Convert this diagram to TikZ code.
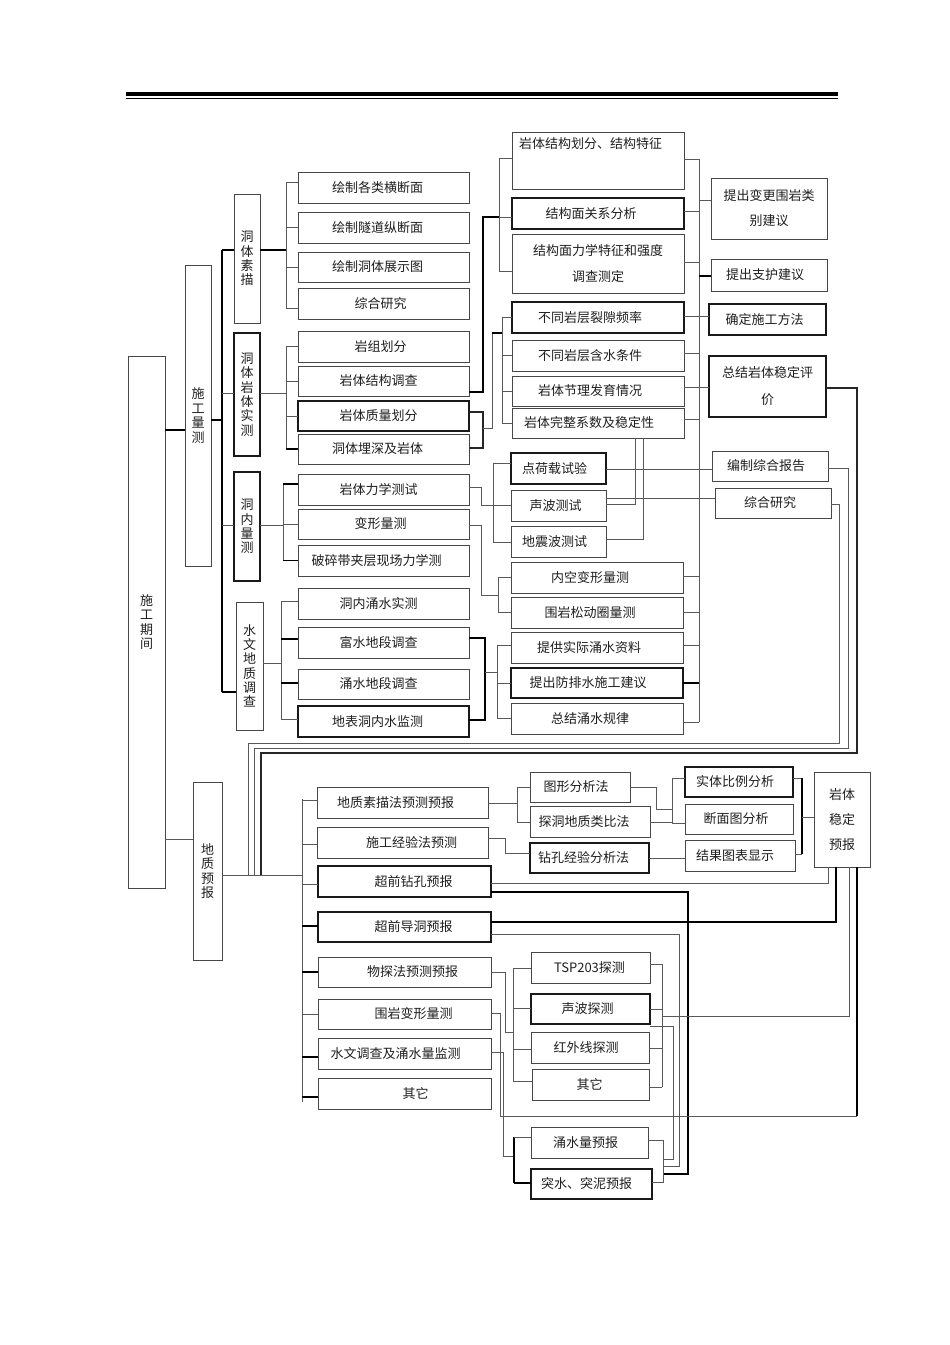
\documentclass[tikz,border=0pt]{standalone}
\usepackage{fontspec}
\setmainfont{Noto Sans CJK SC}
\usetikzlibrary{calc}
\tikzset{
  box/.style={draw=black!72, line width=0.9pt, inner sep=0pt, outer sep=0pt, fill=white, text=black!88},
  tbox/.style={box, draw=black!90, line width=1.2pt},
  vt/.style={align=center, font=\fontsize{13}{14.3}\selectfont},
  ln/.style={draw=black!65, line width=0.8pt},
  md/.style={draw=black!85, line width=1.2pt},
  tk/.style={draw=black, line width=1.6pt},
}
\newcommand\bx[8][]{\node[box,#1,minimum width={#4pt-#2pt},minimum height={#5pt-#3pt}] (#6) at ({(#2+#4)/2},{(#3+#5)/2}) {\hspace*{2\dimexpr#7pt\relax}#8};}
\begin{document}
\begin{tikzpicture}[x=1pt,y=-1pt,font=\fontsize{13}{14}\selectfont]
\useasboundingbox (0,0) rectangle (950,1345);
% top rule
\draw[line width=3.6pt] (126,94) -- (838,94);
\draw[line width=0.8pt] (126,98.8) -- (838,98.8);

% ---- left column ----
\bx[vt]{128}{356}{165}{888}{sgqj}{0}{施\\工\\期\\间}
\bx[vt,font=\fontsize{13}{14.8}\selectfont]{185}{265}{211}{566}{sglc}{0}{施\\工\\量\\测}
\bx[vt,font=\fontsize{13}{14.6}\selectfont]{193}{782}{222}{960}{dzyb}{0}{地\\质\\预\\报}
\bx[vt]{234}{194}{260}{323}{g1}{0}{洞\\体\\素\\描}
\bx[vt,tbox,line width=1.1pt]{234}{333}{260}{456}{g2}{0}{洞\\体\\岩\\体\\实\\测}
\bx[vt,tbox,line width=1.1pt]{234}{472}{260}{581}{g3}{0}{洞\\内\\量\\测}
\bx[vt]{236}{602}{263}{730}{g4}{0}{水\\文\\地\\质\\调\\查}

% ---- column 2 ----
\bx{298}{172}{469}{203}{a1}{-6}{绘制各类横断面}
\bx{298}{212}{469}{243}{a2}{-6}{绘制隧道纵断面}
\bx{298}{252}{469}{282}{a3}{-6}{绘制洞体展示图}
\bx{298}{288}{469}{319}{a4}{-3}{综合研究}
\bx{298}{331}{469}{362}{b1}{-3}{岩组划分}
\bx{298}{366}{469}{396}{b2}{-5}{岩体结构调查}
\bx[tbox]{298}{401}{469}{431}{b3}{-5}{岩体质量划分}
\bx{298}{434}{469}{464}{b4}{-6}{洞体埋深及岩体}
\bx{298}{474}{469}{505}{c1}{-5}{岩体力学测试}
\bx{298}{509}{469}{539}{c2}{-3}{变形量测}
\bx{298}{545}{469}{576}{c3}{-7}{破碎带夹层现场力学测}
\bx{298}{588}{469}{619}{d1}{-5}{洞内涌水实测}
\bx{298}{627}{469}{658}{d2}{-5}{富水地段调查}
\bx{298}{669}{469}{699}{d3}{-5}{涌水地段调查}
\bx[tbox,line width=1.05pt]{298}{706}{469}{737}{d4}{-6}{地表洞内水监测}

% ---- column 3 ----
\bx[label={[anchor=north west,inner sep=0pt,xshift=7pt,yshift=-5pt,text=black!88]north west:岩体结构划分、结构特征}]{512}{132}{684}{189}{e1}{0}{}
\bx[tbox,line width=1.05pt]{512}{198}{684}{229}{e2}{-7}{结构面关系分析}
\bx[align=center,font=\fontsize{13}{26}\selectfont]{512}{234}{684}{293}{e3}{0}{结构面力学特征和强度\\调查测定}
\bx[tbox]{512}{302}{684}{333}{f1}{-8}{不同岩层裂隙频率}
\bx{512}{340}{684}{371}{f2}{-8}{不同岩层含水条件}
\bx{512}{376}{684}{406}{f3}{-8}{岩体节理发育情况}
\bx{512}{408}{684}{438}{f4}{-9}{岩体完整系数及稳定性}
\bx[tbox,line width=1.05pt]{511}{453}{606}{484}{h1}{-4}{点荷载试验}
\bx{511}{490}{606}{521}{h2}{-3}{声波测试}
\bx{511}{526}{606}{557}{h3}{-4}{地震波测试}
\bx{511}{562}{683}{593}{i1}{-7}{内空变形量测}
\bx{511}{597}{683}{628}{i2}{-7}{围岩松动圈量测}
\bx{511}{632}{683}{663}{j1}{-8}{提供实际涌水资料}
\bx[tbox,line width=1.05pt]{511}{668}{683}{698}{j2}{-9}{提出防排水施工建议}
\bx{511}{703}{683}{734}{j3}{-7}{总结涌水规律}

% ---- right column ----
\bx[align=center,font=\fontsize{13}{25}\selectfont]{711}{178}{827}{239}{r1}{0}{提出变更围岩类\\别建议}
\bx{711}{259}{827}{291}{r2}{-4}{提出支护建议}
\bx[tbox,line width=1.05pt]{709}{304}{826}{335}{r3}{-3}{确定施工方法}
\bx[tbox,align=center,font=\fontsize{13}{27}\selectfont]{709}{356}{826}{417}{r4}{0}{总结岩体稳定评\\价}
\bx{712}{451}{828}{481}{r5}{-4}{编制综合报告}
\bx{715}{488}{831}{518}{r6}{-3}{综合研究}

% ---- forecast section ----
\bx{317}{787}{488}{818}{p1}{-7}{地质素描法预测预报}
\bx{317}{827}{488}{858}{p2}{9}{施工经验法预测}
\bx[tbox,line width=1.05pt]{318}{866}{491}{897}{p3}{9}{超前钻孔预报}
\bx[tbox,line width=1.05pt]{318}{912}{491}{942}{p4}{9}{超前导洞预报}
\bx{318}{957}{491}{987}{p5}{8}{物探法预测预报}
\bx{318}{999}{491}{1029}{p6}{9}{围岩变形量测}
\bx{318}{1038}{491}{1069}{p7}{-9}{水文调查及涌水量监测}
\bx{318}{1078}{491}{1109}{p8}{11}{其它}

\bx{530}{772}{630}{802}{q1}{-4}{图形分析法}
\bx{530}{806}{650}{837}{q2}{-6}{探洞地质类比法}
\bx[tbox,line width=1.05pt]{530}{843}{649}{873}{q3}{-6}{钻孔经验分析法}
\bx[tbox,line width=1.1pt]{685}{767}{793}{797}{s1}{-4}{实体比例分析}
\bx{685}{804}{793}{834}{s2}{-3}{断面图分析}
\bx{685}{840}{795}{871}{s3}{-5}{结果图表显示}
\bx[align=center,font=\fontsize{13}{25}\selectfont]{814}{772}{870}{867}{ws}{0}{岩体\\稳定\\预报}

\bx{531}{952}{650}{983}{t1}{-1}{TSP203探测}
\bx[tbox,line width=1.05pt]{531}{994}{650}{1024}{t2}{-3}{声波探测}
\bx{531}{1032}{649}{1063}{t3}{-4}{红外线探测}
\bx{532}{1069}{649}{1100}{t4}{-1}{其它}
\bx{531}{1127}{648}{1158}{u1}{-4}{涌水量预报}
\bx[tbox,line width=1.05pt]{531}{1169}{652}{1199}{u2}{-5}{突水、突泥预报}

% ================= connectors =================
\coordinate (sA) at (222,0);
\coordinate (sB) at (286,0);
\coordinate (sC) at (283,0);
\coordinate (sD) at (281,0);
\coordinate (sF) at (502,0);
\coordinate (sH) at (493,0);
\coordinate (sI) at (498,0);
\coordinate (sJ) at (497,0);
\coordinate (sR) at (699,0);
\coordinate (sP) at (302,0);
\coordinate (sT) at (513,0);
\coordinate (sU) at (662,0);

\draw[tk] (sgqj.east|-0,430) -- (sglc.west|-0,430);
\draw[ln] (sgqj.east|-0,839) -- (dzyb.west|-0,839);

% main spine
\draw[tk] (sglc.east|-0,420) -- (sA|-0,420);
\draw[tk] (sA|-0,250) -- (sA|-0,692);
\draw[tk] (sA|-0,250) -- (g1.west|-0,250);
\draw[ln] (sA|-0,393) -- (g2.west|-0,393);
\draw[ln] (sA|-0,525) -- (g3.west|-0,525);
\draw[tk] (sA|-0,692) -- (g4.west|-0,692);

% group 1
\draw[tk] (g1.east|-0,250) -- (sB|-0,250);
\draw[ln] (sB|-0,182) -- (sB|-0,308);
\draw[ln] (sB|-0,182) -- (a1.west|-0,182);
\draw[ln] (sB|-a2.west) -- (a2.west);
\draw[ln] (sB|-a3.west) -- (a3.west);
\draw[ln] (sB|-0,308) -- (a4.west|-0,308);
% group 2
\draw[ln] (g2.east|-0,393) -- (sB|-0,393);
\draw[ln] (sB|-b1.west) -- (sB|-b4.west);
\foreach \n in {b1,b2,b3} \draw[ln] (sB|-\n.west) -- (\n.west);
\draw[tk] (sB|-b4.west) -- (b4.west);
% group 3
\draw[ln] (g3.east|-0,525) -- (sC|-0,525);
\draw[ln] (sC|-0,484) -- (sC|-c3.west);
\draw[tk] (sC|-0,484) -- (c1.west|-0,484);
\draw[ln] (sC|-c2.west) -- (c2.west);
\draw[tk] (sC|-c3.west) -- (c3.west);
% group 4
\draw[ln] (g4.east|-0,663) -- (sD|-0,663);
\draw[ln] (sD|-0,601) -- (sD|-0,719);
\draw[ln] (sD|-0,601) -- (d1.west|-0,601);
\draw[tk] (sD|-0,639) -- (d2.west|-0,639);
\draw[tk] (sD|-0,683) -- (d3.west|-0,683);
\draw[ln] (sD|-0,719) -- (d4.west|-0,719);

% middle links
\draw[tk] (b2.east|-0,392) -- (483,392) -- (483,217) -- (499,217);
\draw[ln] (499,217) -- (e2.west|-0,217);
\draw[ln] (e1.west|-0,158) -- (499,158) -- (499,271) -- (e3.west|-0,271);

\draw[md] (b3.east|-0,412) -- (483,412) -- (483,448) -- (b4.east|-0,448);
\draw[ln] (483,428) -- (492,428) -- (492,333);
\draw[tk] (492,333) -- (sF|-0,333);
\draw[ln] (sF|-f1.west) -- (sF|-f4.west);
\foreach \n in {f1,f2,f3,f4} \draw[ln] (sF|-\n.west) -- (\n.west);

\draw[ln] (c1.east|-0,487) -- (481,487) -- (481,505) -- (sH|-0,505);
\draw[ln] (sH|-0,463) -- (sH|-0,542);
\draw[ln] (sH|-0,463) -- (h1.west|-0,463);
\draw[ln] (sH|-0,505) -- (h2.west|-0,505);
\draw[ln] (sH|-0,542) -- (h3.west|-0,542);

\draw[ln] (c2.east|-0,525) -- (481,525) -- (481,595) -- (sI|-0,595);
\draw[ln] (sI|-i1.west) -- (sI|-i2.west);
\draw[ln] (sI|-i1.west) -- (i1.west);
\draw[ln] (sI|-i2.west) -- (i2.west);

\draw[tk] (d2.east|-0,638) -- (485,638) -- (485,720) -- (d4.east|-0,720);
\draw[ln] (485,672) -- (sJ|-0,672);
\draw[ln] (sJ|-0,645) -- (sJ|-0,718);
\draw[ln] (sJ|-0,645) -- (j1.west|-0,645);
\draw[ln] (sJ|-j2.west) -- (j2.west);
\draw[ln] (sJ|-0,718) -- (j3.west|-0,718);

% right spine
\draw[ln] (sR|-0,159) -- (sR|-0,722);
\draw[ln] (e1.east|-0,159) -- (sR|-0,159);
\draw[ln] (e2.east|-0,211) -- (sR|-0,211);
\draw[ln] (e3.east|-0,262) -- (sR|-0,262);
\draw[ln] (f2.east|-0,353) -- (sR|-0,353);
\draw[ln] (f4.east|-0,419) -- (sR|-0,419);
\draw[ln] (i1.east|-0,576) -- (sR|-0,576);
\draw[ln] (i2.east|-0,612) -- (sR|-0,612);
\draw[ln] (j1.east|-0,645) -- (sR|-0,645);
\draw[tk] (j2.east|-0,683) -- (sR|-0,683);
\draw[ln] (j3.east|-0,722) -- (sR|-0,722);
\draw[ln] (f1.east|-0,316) -- (r3.west|-0,316);
\draw[ln] (f3.east|-0,387) -- (r4.west|-0,387);
\draw[ln] (sR|-0,200) -- (r1.west|-0,200);
\draw[tk] (sR|-0,276) -- (r2.west|-0,276);

\draw[ln] (h1.east|-0,469) -- (r5.west|-0,469);
\draw[ln] (h2.east|-0,498) -- (r6.west|-0,498);
\draw[ln] (h2.east|-0,504) -| (f4.south-|635,0);
\draw[ln] (h3.east|-0,539) -| (f4.south-|643,0);

% loops down to 地质预报
\draw[md] (r4.east|-0,388) -| (857,753) -| (261,875);
\draw[ln] (r5.east|-0,468) -| (848,748) -| (254,875);
\draw[ln] (r6.east|-0,504) -| (839,743) -| (248,875);

% forecast tree
\draw[ln] (dzyb.east|-0,875) -- (sP|-0,875);
\draw[ln] (sP|-0,799) -- (sP|-0,1102);
\draw[ln] (sP|-0,800) -- (p1.west|-0,800);
\draw[ln] (sP|-0,844) -- (p2.west|-0,844);
\draw[ln] (sP|-0,884) -- (p3.west|-0,884);
\draw[tk] (sP|-0,926) -- (p4.west|-0,926);
\draw[tk] (sP|-0,972) -- (p5.west|-0,972);
\draw[ln] (sP|-0,1014) -- (p6.west|-0,1014);
\draw[tk] (sP|-0,1057) -- (p7.west|-0,1057);
\draw[tk] (sP|-0,1097) -- (p8.west|-0,1097);

\draw[ln] (p1.east|-0,803) -- (517,803);
\draw[ln] (517,787) -- (517,822);
\draw[ln] (517,787) -- (q1.west|-0,787);
\draw[ln] (517,822) -- (q2.west|-0,822);
\draw[ln] (p2.east|-0,838) -| (505,853) -- (q3.west|-0,853);

\draw[ln] (q1.east|-0,787) -| (656,809) -- (672,809);
\draw[ln] (q2.east|-0,822) -- (672,822);
\draw[ln] (672,778) -- (672,823);
\draw[ln] (672,778) -- (s1.west|-0,778);
\draw[ln] (672,823) -- (s2.west|-0,823);
\draw[ln] (q3.east|-0,858) -- (s3.west|-0,858);
\draw[ln] (s1.east|-0,778) -- (802,778);
\draw[tk] (802,778) -- (802,854);
\draw[ln] (s3.east|-0,854) -- (802,854);
\draw[ln] (802,817) -- (ws.west|-0,817);

\draw[ln] (ws.south-|828,0) |- (p3.east|-0,883);
\draw[tk] (p3.east|-0,892) -| (688,1174) -- (663,1174);
\draw[tk] (ws.south-|836,0) |- (p4.east|-0,922);
\draw[ln] (p4.east|-0,934) -| (679,1166) -- (663,1166);
\draw[ln] (ws.south-|849,0) |- (sU|-0,1016);
\draw[tk] (ws.south-|857,0) -- (857,1116);
\draw[ln] (857,1116) -| (500,1013) -- (p6.east|-0,1013);

\draw[ln] (p5.east|-0,972) -| (505,1032) -- (sT|-0,1032);
\draw[ln] (sT|-0,968) -- (sT|-0,1081);
\draw[ln] (sT|-0,968) -- (t1.west|-0,968);
\draw[ln] (sT|-0,1008) -- (t2.west|-0,1008);
\draw[ln] (sT|-0,1049) -- (t3.west|-0,1049);
\draw[ln] (sT|-0,1081) -- (t4.west|-0,1081);
\draw[ln] (sU|-0,964) -- (sU|-0,1087);
\draw[ln] (t1.east|-0,964) -- (sU|-0,964);
\draw[ln] (t2.east|-0,1009) -- (sU|-0,1009);
\draw[ln] (t3.east|-0,1048) -- (sU|-0,1048);
\draw[ln] (t4.east|-0,1087) -- (sU|-0,1087);
\draw[ln] (t2.east|-0,1026) -| (673,1159) -- (663,1159);

\draw[ln] (p7.east|-0,1052) -| (503,1156) -- (514,1156);
\draw[tk] (514,1137) -- (514,1183);
\draw[ln] (514,1137) -- (u1.west|-0,1137);
\draw[tk] (514,1183) -- (u2.west|-0,1183);
\draw[ln] (u1.east|-0,1140) -| (663,1182) -- (u2.east|-0,1182);
\end{tikzpicture}
\end{document}
